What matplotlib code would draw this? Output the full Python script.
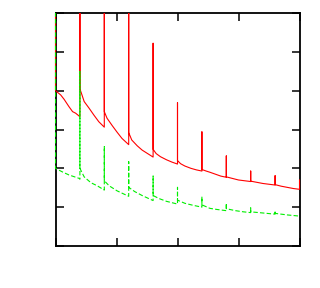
import matplotlib
matplotlib.use("Agg")
import matplotlib.pyplot as plt
from matplotlib.transforms import Bbox, TransformedBbox

# Red (solid) series: x positions and values; repeated x marks a spike (pre, peak, post)
red_x = [0.0, 0.0, 0.085, 0.14, 0.22, 0.28, 0.33,
         0.4, 0.4, 0.4, 0.47, 0.55, 0.63, 0.71,
         0.8, 0.8, 0.8, 0.845, 0.93, 1.01, 1.09,
         1.2, 1.2, 1.2, 1.25, 1.34, 1.42, 1.53,
         1.6, 1.6, 1.6, 1.65, 1.72, 1.82, 1.91,
         2.0, 2.0, 2.0, 2.05, 2.12, 2.22, 2.31,
         2.4, 2.4, 2.4, 2.47, 2.53, 2.62, 2.71,
         2.8, 2.8, 2.8, 2.9, 3.0, 3.1,
         3.2, 3.2, 3.2, 3.3, 3.4, 3.5,
         3.6, 3.6, 3.6, 3.7, 3.8, 3.9,
         4.0, 4.0]
red_y = [10.0, 4.0, 3.89, 3.78, 3.59, 3.46, 3.42,
         3.33, 10.0, 4.05, 3.72, 3.55, 3.37, 3.20,
         3.06, 10.0, 3.46, 3.29, 3.10, 2.93, 2.77,
         2.61, 10.0, 2.92, 2.73, 2.58, 2.47, 2.36,
         2.29, 5.22, 2.49, 2.38, 2.30, 2.22, 2.16,
         2.11, 3.69, 2.20, 2.12, 2.06, 2.00, 1.96,
         1.93, 2.94, 1.97, 1.93, 1.90, 1.85, 1.80,
         1.77, 2.32, 1.78, 1.74, 1.70, 1.68,
         1.66, 1.93, 1.67, 1.64, 1.61, 1.59,
         1.57, 1.81, 1.58, 1.54, 1.51, 1.48,
         1.46, 1.70]

# Green (dashed) series
green_x = [0.0, 0.0, 0.11, 0.22, 0.39,
           0.4, 0.4, 0.4, 0.47, 0.58, 0.685,
           0.8, 0.8, 0.8, 0.88, 1.01,
           1.2, 1.2, 1.2, 1.3, 1.42,
           1.6, 1.6, 1.6, 1.7, 1.82,
           2.0, 2.0, 2.0, 2.12, 2.25,
           2.4, 2.4, 2.4, 2.53, 2.65,
           2.8, 2.8, 2.8, 2.95, 3.08,
           3.2, 3.2, 3.2, 3.4,
           3.6, 3.6, 3.6, 3.8,
           4.0]
green_y = [10.0, 2.0, 1.91, 1.83, 1.74,
           1.72, 4.49, 2.0, 1.78, 1.63, 1.55,
           1.44, 2.56, 1.68, 1.55, 1.42,
           1.28, 2.17, 1.51, 1.40, 1.30,
           1.17, 1.80, 1.30, 1.22, 1.15,
           1.08, 1.51, 1.18, 1.10, 1.05,
           1.00, 1.27, 1.06, 0.97, 0.94,
           0.91, 1.10, 0.96, 0.91, 0.88,
           0.86, 0.98, 0.88, 0.85,
           0.82, 0.91, 0.84, 0.80,
           0.77]

x_ticks = [0, 1, 2, 3, 4]
y_ticks = [0, 1, 2, 3, 4, 5, 6]

fig = plt.figure(figsize=(3.2, 2.88), dpi=100)
ax = fig.add_axes([55.5 / 320, 42 / 288, 244 / 320, 233 / 288])

(l1,) = ax.plot(red_x, red_y, color="#ff0000", lw=0.8, zorder=3)
(l2,) = ax.plot(green_x, green_y, color="#00ee00", lw=0.8, dashes=(4, 2), zorder=3.1)
clip = TransformedBbox(Bbox([[-0.01, 0.0], [1.01, 1.0]]), ax.transAxes)
for ln in (l1, l2):
    ln.set_clip_box(clip)

ax.set_xlim(0, 4)
ax.set_ylim(0, 6)
ax.set_xticks(x_ticks)
ax.set_yticks(y_ticks)
ax.set_xticklabels([])
ax.set_yticklabels([])
ax.tick_params(direction="in", length=6, width=1.1, top=True, right=True,
               colors="black")
for s in ax.spines.values():
    s.set_linewidth(1.3)
    s.set_color("black")

fig.savefig("out.png", dpi=100)
